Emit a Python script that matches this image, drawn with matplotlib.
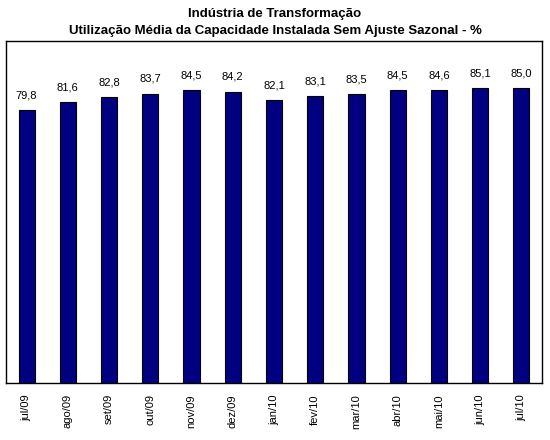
#!/usr/bin/env python3
# -*- coding: utf-8 -*-
import numpy as np
import matplotlib
matplotlib.use("Agg")
import matplotlib.pyplot as plt

plt.rcParams['font.family'] = ['Liberation Sans', 'DejaVu Sans']

meses = ["jul/09", "ago/09", "set/09", "out/09", "nov/09", "dez/09", "jan/10",
         "fev/10", "mar/10", "abr/10", "mai/10", "jun/10", "jul/10"]
nuci = [79.8, 81.6, 82.8, 83.7, 84.5, 84.2, 82.1, 83.1, 83.5, 84.5, 84.6, 85.1, 85.0]

fig = plt.figure(figsize=(5.5, 4.4), dpi=100)
ax = fig.add_axes([6/550, 1 - 383/440, 536/550, 342/440])

x = np.arange(len(meses))
ax.bar(x, nuci, width=0.39, color="#000080", edgecolor="black", linewidth=0.8)

# rotulos com virgula decimal
for xi, v in zip(x, nuci):
    ax.annotate(("%.1f" % v).replace(".", ","), (xi, v), xytext=(0, 7),
                textcoords="offset points", ha="center", va="bottom", fontsize=8)

ax.set_xlim(-0.5, len(meses) - 0.5)
ax.set_ylim(15, 96.2)
ax.set_yticks([])
ax.set_xticks(x)
ax.set_xticklabels(meses, rotation=90, fontsize=8)
ax.tick_params(axis="x", length=0, pad=8)
for s in ax.spines.values():
    s.set_linewidth(1.0)

fig.text(0.5, 1 - 14/440, "Indústria de Transformação", ha="center", va="center",
         fontsize=9.5, fontweight="bold")
fig.text(0.5, 1 - 31/440, "Utilização Média da Capacidade Instalada Sem Ajuste Sazonal - %",
         ha="center", va="center", fontsize=9.5, fontweight="bold")

fig.savefig("out.png", dpi=100)
